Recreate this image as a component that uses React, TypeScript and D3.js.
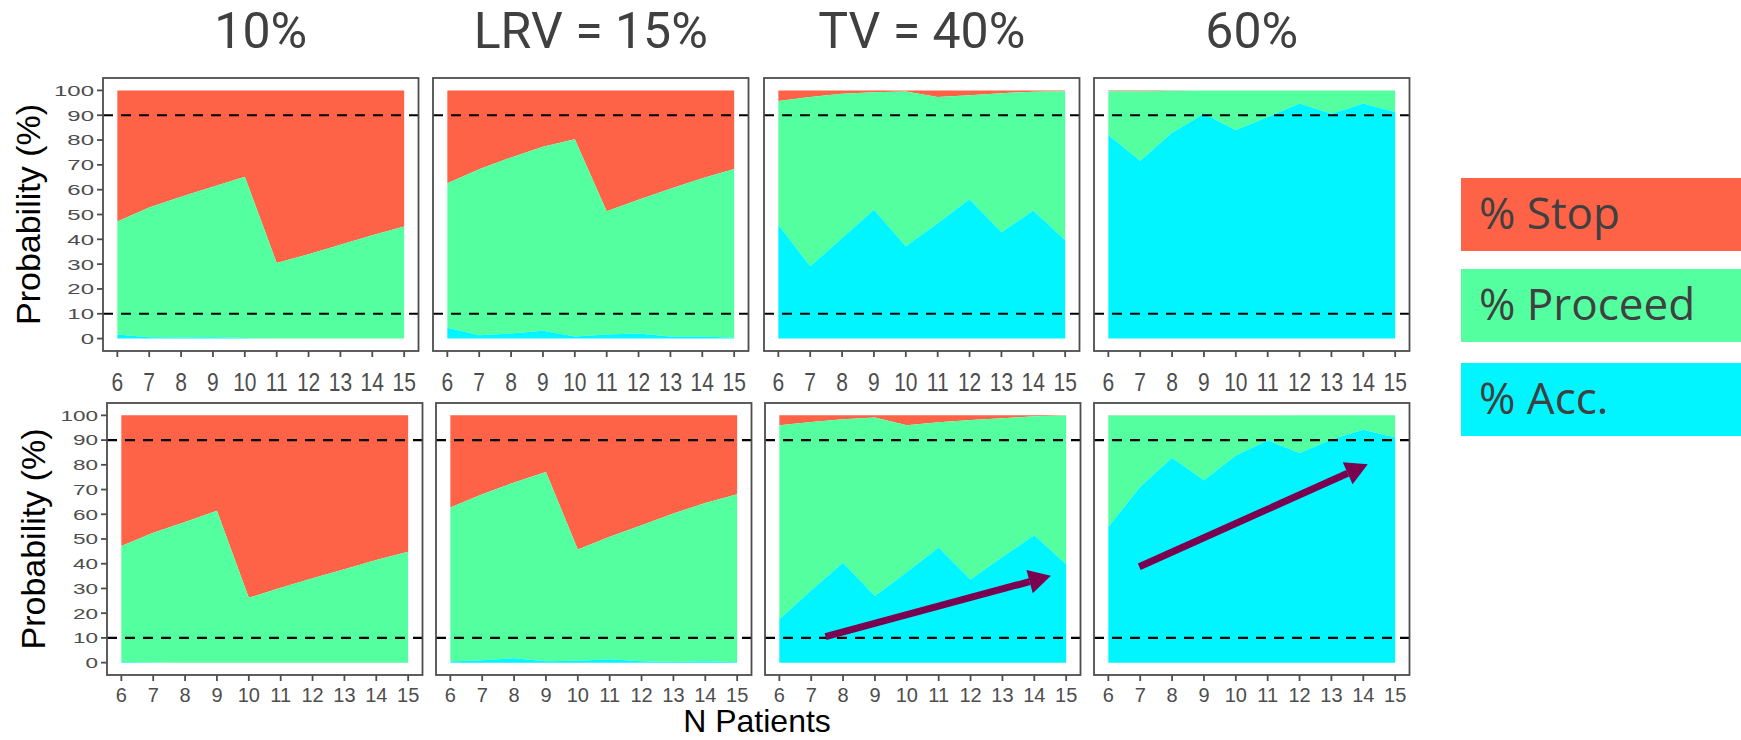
import * as d3 from "d3";

const nPatients = [6, 7, 8, 9, 10, 11, 12, 13, 14, 15];
const panelTitles = ["10%", "LRV = 15%", "TV = 40%", "60%"];
const yTicks = [0, 10, 20, 30, 40, 50, 60, 70, 80, 90, 100];
const thresholds = [10, 90];

// top row: % Acc. and % Proceed per panel, % Stop is the rest up to 100
const accTop = [
  [1.6, 0.5, 0.4, 0.5, 0.2, 0, 0, 0, 0, 0],
  [4.4, 1.3, 2.1, 3.2, 0.8, 1.6, 2.1, 0.8, 0.8, 0.3],
  [45.9, 29.1, 40.5, 51.9, 37.2, 46.5, 56.1, 42.8, 51.6, 39.6],
  [82.0, 71.7, 82.9, 90.6, 84.0, 89.3, 94.7, 90.6, 94.7, 91.3],
];
const proceedTop = [
  [45.6, 52.3, 56.8, 60.7, 65.0, 30.5, 34.0, 37.8, 41.6, 45.2],
  [58.2, 66.9, 70.9, 74.1, 79.5, 49.7, 53.8, 59.6, 63.8, 68.0],
  [49.8, 68.2, 58.2, 47.4, 62.4, 50.8, 41.9, 56.1, 47.9, 60.1],
  [17.7, 28.0, 17.0, 9.4, 16.0, 10.7, 5.3, 9.4, 5.3, 8.7],
];

// bottom row
const accBottom = [
  [0.3, 0.1, 0, 0, 0, 0, 0, 0, 0, 0],
  [0.5, 1.0, 1.8, 0.6, 0.8, 1.4, 0.6, 0.3, 0.6, 0.2],
  [17.5, 29.3, 40.4, 26.9, 36.7, 46.6, 33.6, 42.8, 51.5, 39.8],
  [54.9, 71.1, 82.9, 73.8, 83.8, 89.9, 84.8, 90.2, 94.2, 91.0],
];
const proceedBottom = [
  [46.9, 52.4, 56.9, 61.4, 26.2, 30.3, 34.1, 37.8, 41.5, 44.8],
  [62.2, 67.1, 71.0, 76.5, 45.0, 49.5, 55.0, 60.0, 64.0, 67.9],
  [78.5, 68.0, 58.0, 72.2, 59.3, 50.6, 64.5, 56.0, 48.1, 60.1],
  [45.0, 28.8, 17.0, 26.1, 16.1, 10.0, 15.2, 9.8, 5.8, 9.0],
];

const legendLabels = ["% Stop", "% Proceed", "% Acc."];
const colors = { stop: "#FF6347", proceed: "#54FF9F", acc: "#00F5FF" };

// trend arrows (N patients, %), bottom row
const arrowPanels = [2, 3];
const arrowFrom = [
  [7.45, 10.5],
  [6.97, 38.8],
];
const arrowTo = [
  [14.52, 35.1],
  [14.14, 80.2],
];

const W = 1741;
const H = 740;
const panelW = 315.5;
const rows = [
  { top: 78, bottom: 351, lefts: [103, 433, 764, 1094], labelY: 391, labelScale: 1.23, acc: accTop, proceed: proceedTop },
  { top: 403, bottom: 675, lefts: [107, 436, 765, 1094], labelY: 702, labelScale: 1, acc: accBottom, proceed: proceedBottom },
];
const tickColor = "#4d4d4d";
const axisFont = "'Liberation Sans', Arial, sans-serif";
const legendFont = "'Open Sans', sans-serif";

function Panel({ row, col }: { row: number; col: number }) {
  const r = rows[row];
  const left = r.lefts[col];
  const x = d3.scaleLinear().domain([5.55, 15.45]).range([left, left + panelW]);
  const y = d3.scaleLinear().domain([-5, 105]).range([r.bottom, r.top]);
  const acc = r.acc[col];
  const proc = r.proceed[col];
  const idx = d3.range(nPatients.length);

  const accArea = d3.area<number>()
    .x((i) => x(nPatients[i]))
    .y0(y(0))
    .y1((i) => y(acc[i]));
  const procArea = d3.area<number>()
    .x((i) => x(nPatients[i]))
    .y0((i) => y(acc[i]))
    .y1((i) => y(acc[i] + proc[i]));
  const stopArea = d3.area<number>()
    .x((i) => x(nPatients[i]))
    .y0((i) => y(acc[i] + proc[i]))
    .y1(y(100));

  const ai = row === 1 ? arrowPanels.indexOf(col) : -1;
  let arrow = null;
  if (ai >= 0) {
    const [x1, y1] = [x(arrowFrom[ai][0]), y(arrowFrom[ai][1])];
    const [x2, y2] = [x(arrowTo[ai][0]), y(arrowTo[ai][1])];
    const a = Math.atan2(y2 - y1, x2 - x1);
    const headL = 22;
    const headW = 12;
    const bx = x2 - headL * Math.cos(a);
    const by = y2 - headL * Math.sin(a);
    const nx = -Math.sin(a);
    const ny = Math.cos(a);
    arrow = (
      <g fill="#7A0050" stroke="#7A0050">
        <line x1={x1} y1={y1} x2={bx} y2={by} strokeWidth={7} />
        <polygon
          stroke="none"
          points={`${x2},${y2} ${bx + nx * headW},${by + ny * headW} ${bx - nx * headW},${by - ny * headW}`}
        />
      </g>
    );
  }

  return (
    <g>
      <path d={stopArea(idx) ?? ""} fill={colors.stop} />
      <path d={procArea(idx) ?? ""} fill={colors.proceed} />
      <path d={accArea(idx) ?? ""} fill={colors.acc} />
      {thresholds.map((t) => (
        <line key={t} x1={left} x2={left + panelW} y1={y(t)} y2={y(t)} stroke="#000" strokeWidth={2.2} strokeDasharray="10 8" />
      ))}
      {arrow}
      <rect x={left} y={r.top} width={panelW} height={r.bottom - r.top} fill="none" stroke={tickColor} strokeWidth={1.8} />
      {nPatients.map((n) => (
        <g key={n}>
          <line x1={x(n)} x2={x(n)} y1={r.bottom} y2={r.bottom + 6} stroke={tickColor} strokeWidth={1.8} />
          <text
            transform={`translate(${x(n)},${r.labelY}) scale(1,${r.labelScale})`}
            textAnchor="middle"
            fontFamily={axisFont}
            fontSize={row === 0 ? 21 : 20}
            fill={tickColor}
          >
            {n}
          </text>
        </g>
      ))}
      {col === 0 &&
        yTicks.map((t) => (
          <g key={t}>
            <line x1={left - 6} x2={left} y1={y(t)} y2={y(t)} stroke={tickColor} strokeWidth={1.8} />
            <text
              transform={`translate(${left - 9},${y(t)}) scale(${row === 0 ? 1.6 : 1.5},1)`}
              textAnchor="end"
              dy="0.36em"
              fontFamily={axisFont}
              fontSize={15}
              fill={tickColor}
            >
              {t}
            </text>
          </g>
        ))}
      {col === 0 && (
        <text
          transform={`translate(${row === 0 ? 40 : 45},${(y(0) + y(100)) / 2}) rotate(-90)`}
          textAnchor="middle"
          fontFamily={axisFont}
          fontSize={34}
          fill="#000"
        >
          Probability (%)
        </text>
      )}
    </g>
  );
}

export default function App() {
  const legendColors = [colors.stop, colors.proceed, colors.acc];
  const legendTops = [178, 269, 363];
  return (
    <svg width={W} height={H} style={{ position: "absolute", left: 0, top: 0, background: "#fff" }}>
      {panelTitles.map((t, i) => (
        <text
          key={t}
          x={rows[0].lefts[i] + panelW / 2}
          y={48}
          textAnchor="middle"
          fontFamily="Roboto, sans-serif"
          fontSize={50}
          fill="#404040"
        >
          {t}
        </text>
      ))}
      {rows.map((_, ri) => panelTitles.map((_, ci) => <Panel key={`${ri}-${ci}`} row={ri} col={ci} />))}
      <text x={757} y={732} textAnchor="middle" fontFamily={axisFont} fontSize={32} fill="#000">
        N Patients
      </text>
      {legendLabels.map((l, i) => (
        <g key={l}>
          <rect x={1461} y={legendTops[i]} width={W - 1461} height={73} fill={legendColors[i]} />
          <text x={1479} y={legendTops[i] + 51} fontFamily={legendFont} fontSize={44} fill="#404040">
            {l}
          </text>
        </g>
      ))}
    </svg>
  );
}
